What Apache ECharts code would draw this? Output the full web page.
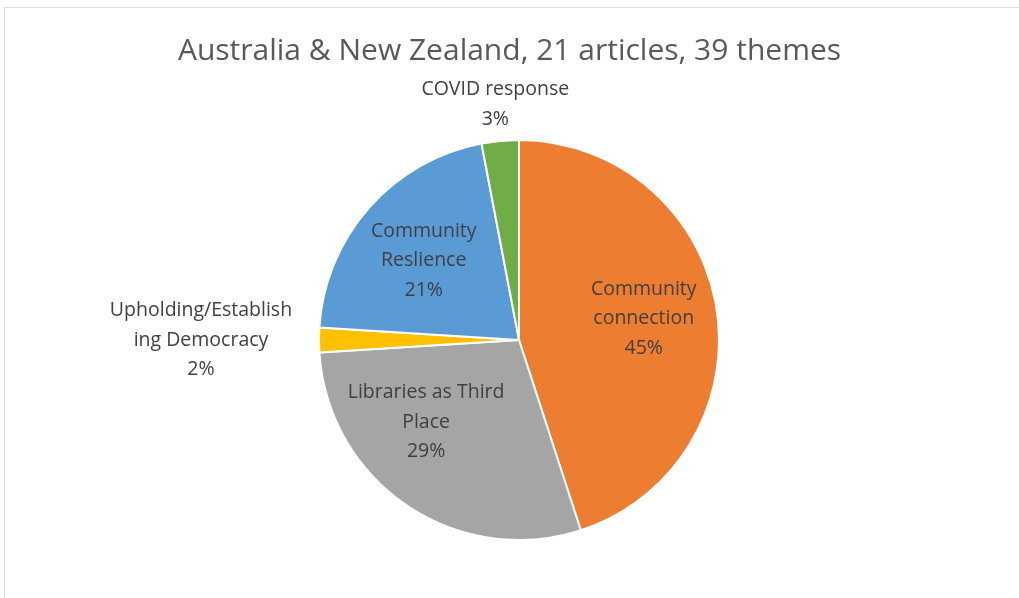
<!DOCTYPE html>
<html><head><meta charset="utf-8">
<script src="https://cdn.jsdelivr.net/npm/echarts@6/dist/echarts.min.js"></script>
<style>html,body{margin:0;padding:0;background:#fff}#c{width:1019px;height:598px}</style>
</head><body><div id="c"></div>
<script>
const titleText = 'Australia & New Zealand, 21 articles, 39 themes';
const categories = ['Community connection','Libraries as Third Place','Upholding/Establishing Democracy','Community Reslience','COVID response'];
const labelNames = ['Community\nconnection','Libraries as Third\nPlace','Upholding/Establish\ning Democracy','Community\nReslience','COVID response'];
const values = [45, 29, 2, 21, 3];
const colors = ['#ED7D31','#A5A5A5','#FFC000','#5B9BD5','#70AD47'];
const labelOffsets = [[23,-5],[-35,-3],[-215,0],[-18,-11],[-14,-133]];

const chart = echarts.init(document.getElementById('c'));
chart.setOption({
  animation:false,
  title:{text:titleText,left:'center',top:31,textStyle:{fontFamily:'Open Sans',fontSize:30,fontWeight:'normal',color:'#595959'}},
  graphic:[{type:'rect',shape:{x:4.5,y:7.5,width:1200,height:800},style:{fill:'none',stroke:'#d9d9d9',lineWidth:1}}],
  series:[{
    type:'pie',
    center:[519,340],
    radius:200,
    startAngle:90,
    clockwise:true,
    avoidLabelOverlap:false,
    itemStyle:{borderColor:'#fff',borderWidth:2},
    labelLine:{show:false},
    data: categories.map((n,i)=>({
      name:n, value:values[i],
      itemStyle:{color:colors[i]},
      label:{offset:labelOffsets[i]}
    })),
    label:{
      show:true, position:'inside',
      fontFamily:'Open Sans', fontSize:19.5, lineHeight:29.5, color:'#404040', align:'center',
      formatter:p=>labelNames[p.dataIndex]+'\n'+values[p.dataIndex]+'%'
    }
  }]
});
</script></body></html>
